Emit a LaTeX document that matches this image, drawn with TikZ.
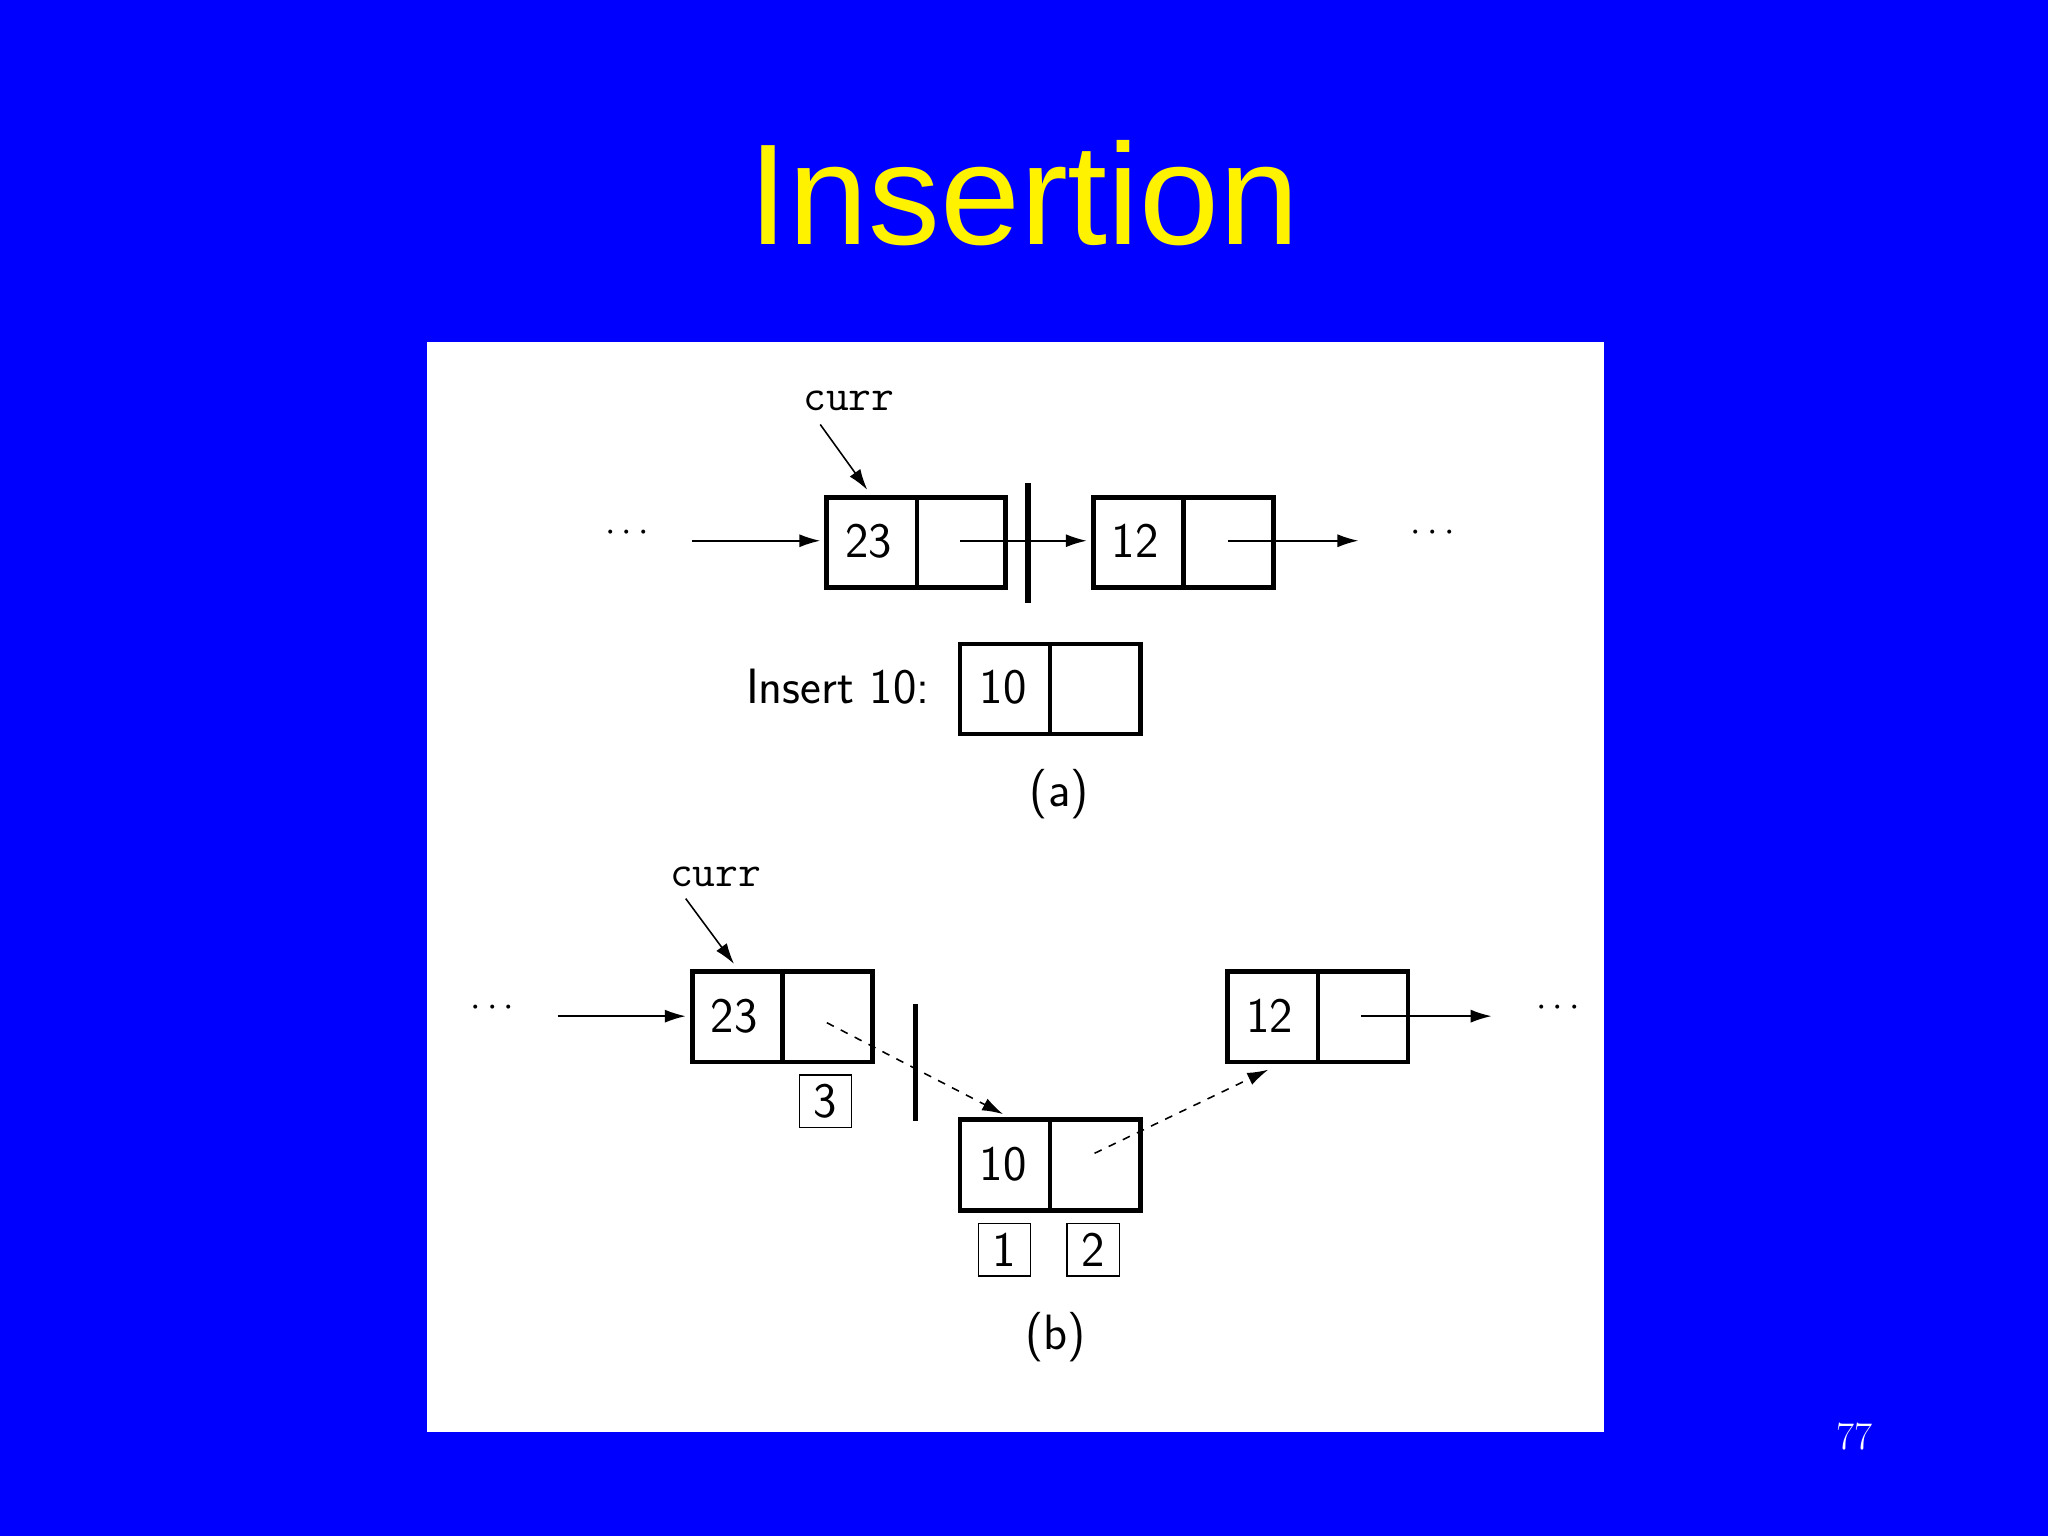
\documentclass[tikz,border=0pt]{standalone}
\usepackage{fontspec}
\usetikzlibrary{arrows.meta}
\newfontfamily\titlefont{Liberation Sans}
\begin{document}
\begin{tikzpicture}[x=0.5pt,y=-0.5pt,
  cell/.style={draw=black,line width=1.8pt},
  lbl/.style={font=\sffamily\fontsize{19}{20}\selectfont,inner sep=0},
  ptr/.style={-{Latex[length=8pt,width=5pt]},line width=0.6pt},
  dptr/.style={ptr,dashed},
  tag/.style={draw,line width=0.5pt,minimum size=20pt,inner sep=0,font=\sffamily\fontsize{19}{20}\selectfont},
  cur/.style={font=\ttfamily\fontsize{17}{18}\selectfont,inner sep=0},
  bar/.style={line width=2pt}]
\useasboundingbox (0,0) rectangle (1568,1176);
\fill[blue] (0,0) rectangle (1568,1176);
\node[text=yellow,font=\titlefont\fontsize{55}{60}\selectfont] (title) at (784,148) {Insertion};
\fill[white] (327,262) rectangle (1228,1096);
\node[text=white,font=\rmfamily\fontsize{15}{16}\selectfont] (pg) at (1420,1100) {77};
% (a)
\node[cur] (curra) at (650,307) {curr};
\draw[cell] (633,381) rectangle (770,450) (702,381)--(702,450);
\draw[cell] (837,381) rectangle (975,450) (906,381)--(906,450);
\node[lbl] (a23) at (665,414) {23};
\node[lbl] (a12) at (869,414) {12};
\coordinate (ca1) at (628,325); \coordinate (ca2) at (664,375);
\draw[ptr] (ca1) -- (ca2);
\node[font=\Large] (d1) at (480,408) {$\cdots$};
\coordinate (p1) at (530,414); \coordinate (p2) at (628,414);
\draw[ptr] (p1) -- (p2);
\coordinate (p3) at (735,414); \coordinate (p4) at (832,414);
\draw[ptr] (p3) -- (p4);
\coordinate (b1) at (787,370); \coordinate (b2) at (787,462);
\draw[bar] (b1) -- (b2);
\coordinate (p5) at (940,414); \coordinate (p6) at (1040,414);
\draw[ptr] (p5) -- (p6);
\node[font=\Large] (d2) at (1097,408) {$\cdots$};
\node[lbl,anchor=east] (ins) at (712,526) {Insert 10:};
\draw[cell] (735,493) rectangle (873,562) (804,493)--(804,562);
\node[lbl] (a10) at (768,526) {10};
\node[lbl] (capa) at (811,608) {(a)};
% (b)
\node[cur] (currb) at (548,671) {curr};
\coordinate (cb1) at (525,688); \coordinate (cb2) at (562,738);
\draw[ptr] (cb1) -- (cb2);
\draw[cell] (530,744) rectangle (668,813) (599,744)--(599,813);
\node[lbl] (b23) at (562,778) {23};
\draw[cell] (940,744) rectangle (1078,813) (1009,744)--(1009,813);
\node[lbl] (b12) at (972,778) {12};
\node[font=\Large] (d3) at (377,772) {$\cdots$};
\coordinate (q1) at (427,778); \coordinate (q2) at (525,778);
\draw[ptr] (q1) -- (q2);
\coordinate (q3) at (1042,778); \coordinate (q4) at (1142,778);
\draw[ptr] (q3) -- (q4);
\node[font=\Large] (d4) at (1193,772) {$\cdots$};
\draw[cell] (735,857) rectangle (873,927) (804,857)--(804,927);
\node[lbl] (b10) at (768,891) {10};
\coordinate (r1) at (633,783); \coordinate (r2) at (768,853);
\draw[dptr] (r1) -- (r2);
\coordinate (r3) at (838,883); \coordinate (r4) at (971,819);
\draw[dptr] (r3) -- (r4);
\coordinate (c1) at (701,769); \coordinate (c2) at (701,858);
\draw[bar] (c1) -- (c2);
\node[tag] (t3) at (632,843) {3};
\node[tag] (t1) at (769,957) {1};
\node[tag] (t2) at (837,957) {2};
\node[lbl] (capb) at (808,1024) {(b)};
\end{tikzpicture}
\end{document}
